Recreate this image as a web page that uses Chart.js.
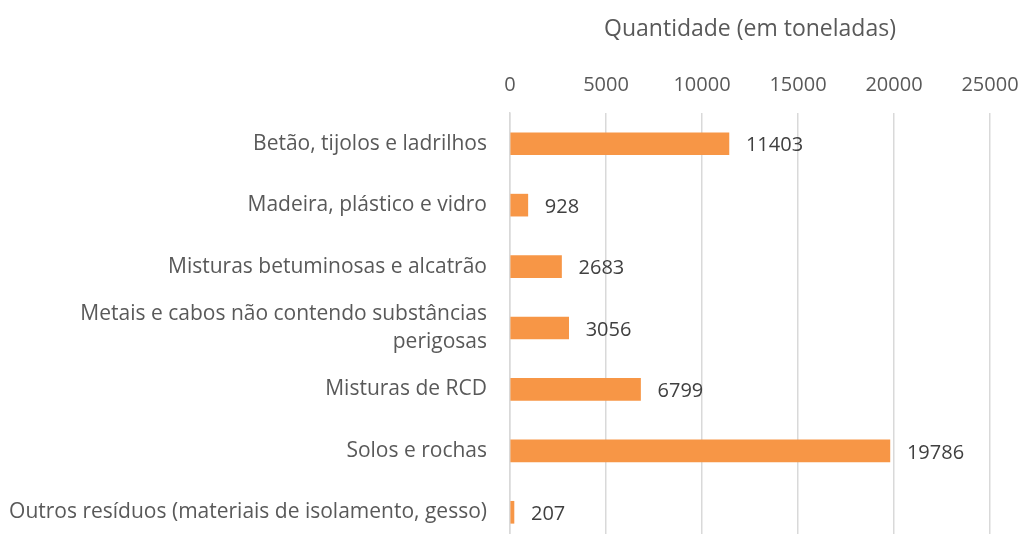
<!DOCTYPE html>
<html>
<head>
<meta charset="utf-8">
<script src="https://cdn.jsdelivr.net/npm/chart.js@4"></script>
<style>
  html, body { margin: 0; padding: 0; background: #fff; overflow: hidden; }
  #wrap { width: 1024px; height: 543px; }
</style>
</head>
<body>
<div id="wrap"><canvas id="chart"></canvas></div>
<script>
const categories = [
    'Betão, tijolos e ladrilhos',
    'Madeira, plástico e vidro',
    'Misturas betuminosas e alcatrão',
    ['Metais e cabos não contendo substâncias', 'perigosas'],
    'Misturas de RCD',
    'Solos e rochas',
    'Outros resíduos (materiais de isolamento, gesso)'
];
const quantities = [11403, 928, 2683, 3056, 6799, 19786, 207];
const axisTitle = 'Quantidade (em toneladas)';
const tickMax = 25000;
const tickStep = 5000;

const fontFamily = '"Open Sans", sans-serif';

// draws the value next to each bar end
const valueLabels = {
    id: 'valueLabels',
    afterDatasetsDraw(chart) {
        const ctx = chart.ctx;
        const meta = chart.getDatasetMeta(0);
        ctx.save();
        ctx.font = '20px ' + fontFamily;
        ctx.fillStyle = '#404040';
        ctx.textAlign = 'left';
        ctx.textBaseline = 'middle';
        meta.data.forEach((bar, i) => {
            ctx.fillText(String(quantities[i]), bar.x + 17, bar.y + 2);
        });
        ctx.restore();
    }
};

new Chart(document.getElementById('chart'), {
    type: 'bar',
    data: {
        labels: categories,
        datasets: [{
            data: quantities,
            backgroundColor: '#F79646',
            barThickness: 22
        }]
    },
    options: {
        indexAxis: 'y',
        responsive: true,
        maintainAspectRatio: false,
        animation: false,
        layout: { padding: { left: 0, right: 34, top: 0, bottom: 0 } },
        plugins: {
            legend: { display: false },
            tooltip: { enabled: false }
        },
        scales: {
            x: {
                position: 'top',
                min: 0,
                max: tickMax,
                afterFit: scale => {
                    scale.height = 113;
                    scale.paddingLeft = 0;
                    scale.paddingRight = 0;
                },
                ticks: {
                    stepSize: tickStep,
                    color: '#595959',
                    font: { family: fontFamily, size: 20 },
                    padding: 16,
                    callback: value => String(value)
                },
                grid: { color: '#d9d9d9', lineWidth: 1.5, drawTicks: false },
                border: { display: false },
                title: {
                    display: true,
                    text: axisTitle,
                    color: '#595959',
                    font: { family: fontFamily, size: 23 },
                    padding: { top: 16, bottom: 0 }
                }
            },
            y: {
                afterFit: scale => {
                    scale.width = 510;
                    scale.paddingTop = 0;
                    scale.paddingBottom = 0;
                },
                ticks: {
                    color: '#595959',
                    font: { family: fontFamily, size: 21, lineHeight: 1.33 },
                    padding: 23
                },
                grid: { display: false, drawTicks: false },
                border: { color: '#d9d9d9', width: 1.5 }
            }
        }
    },
    plugins: [valueLabels]
});
</script>
</body>
</html>
